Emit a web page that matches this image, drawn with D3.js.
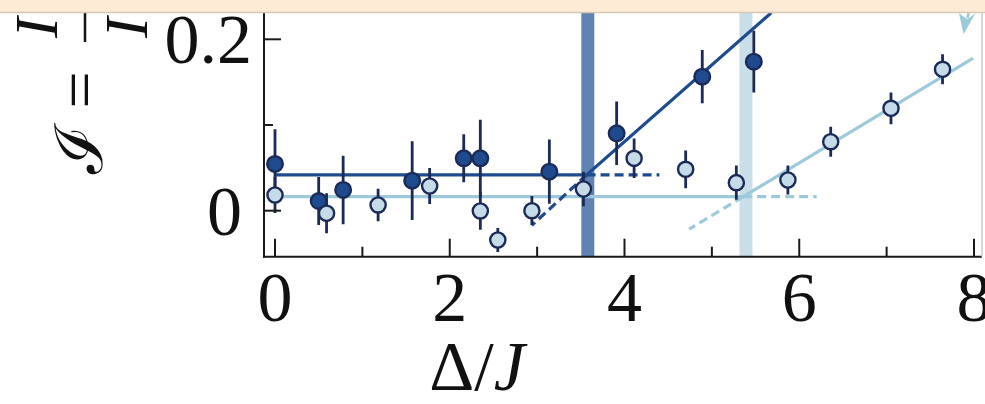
<!DOCTYPE html>
<html>
<head>
<meta charset="utf-8">
<script src="https://cdn.jsdelivr.net/npm/d3@7"></script>
<style>
  body { margin: 0; background: #fff; }
  svg { display: block; }
  text { font-family: "Liberation Serif", "DejaVu Serif", serif; fill: #111; }
</style>
</head>
<body>
<div id="chart"></div>
<script>
// dark series (filled markers)
const darkX = [0, 0.5, 0.78, 1.57, 2.16, 2.35, 3.14, 3.91, 4.89, 5.48];
const darkY = [0.0545, 0.0113, 0.0242, 0.035, 0.0611, 0.0611, 0.0455, 0.0903, 0.1564, 0.1739];
const darkErr = [0.0405, 0.028, 0.04, 0.046, 0.028, 0.045, 0.0375, 0.037, 0.031, 0.036];

// light series
const lightX = [0, 0.59, 1.18, 1.77, 2.35, 2.55, 2.94, 3.53, 4.11, 4.70, 5.28, 5.87, 6.36, 7.05, 7.64];
const lightY = [0.0183, -0.003, 0.0067, 0.0288, -0.0003, -0.0342, 0.0, 0.0253, 0.0611, 0.0483, 0.0327, 0.0358, 0.0805, 0.1195, 0.165];
const lightErr = [0.021, 0.0233, 0.019, 0.021, 0.022, 0.014, 0.017, 0.02, 0.023, 0.022, 0.02, 0.017, 0.0175, 0.0185, 0.0175];

// fitted lines (solid + dashed extensions)
const darkFit = [[0, 0.0417], [3.566, 0.0417], [5.68, 0.231]];
const darkDashH = [[3.566, 0.0417], [4.4, 0.0417]];
const darkDashD = [[3.566, 0.0417], [2.94, -0.017]];
const lightFit = [[0, 0.0163], [5.358, 0.0163], [7.99, 0.178]];
const lightDashH = [[5.358, 0.0163], [6.2, 0.0163]];
const lightDashD = [[5.358, 0.0163], [4.74, -0.0215]];

// thresholds (vertical bands)
const darkThreshold = 3.58;
const lightThreshold = 5.39;

const xTicksMajor = [0, 2, 4, 6, 8];
const xTicksMinor = [1, 3, 5, 7];
const yTicksMajor = [0, 0.2];
const yTicksMinor = [0.1];

const arrowTip = [7.88, 0.206];

const W = 985, H = 404;
const pLeft = 264, pRight = 982, pTop = 13, pBottom = 256.7;

const navy = "#1b2a57";
const darkBlue = "#1f4b8e";
const lightFill = "#c6dbe8";
const lightLine = "#9ec9da";

const x = d3.scaleLinear().domain([0, 8]).range([275, 974]);
const y = d3.scaleLinear().domain([-0.0537, 0.2307]).range([pBottom, pTop]);

const svg = d3.select("#chart").append("svg")
  .attr("width", W).attr("height", H);

svg.append("rect").attr("width", W).attr("height", H).attr("fill", "#fff");

svg.append("clipPath").attr("id", "plotclip")
  .append("rect")
  .attr("x", pLeft).attr("y", pTop)
  .attr("width", pRight - pLeft).attr("height", pBottom - pTop);

const plot = svg.append("g").attr("clip-path", "url(#plotclip)");

// bands
plot.append("rect")
  .attr("x", x(darkThreshold) - 6.5).attr("y", pTop)
  .attr("width", 13).attr("height", pBottom - pTop)
  .attr("fill", "#2c5a9a").attr("opacity", 0.75);

plot.append("rect")
  .attr("x", x(lightThreshold) - 6.5).attr("y", pTop)
  .attr("width", 13).attr("height", pBottom - pTop)
  .attr("fill", "#c3dae6").attr("opacity", 0.9);

const line = d3.line().x(d => x(d[0])).y(d => y(d[1]));

plot.append("path").datum(lightFit).attr("d", line)
  .attr("fill", "none").attr("stroke", lightLine).attr("stroke-width", 3.2);
[lightDashH, lightDashD].forEach(seg => {
  plot.append("path").datum(seg).attr("d", line)
    .attr("fill", "none").attr("stroke", lightLine)
    .attr("stroke-width", 3.2).attr("stroke-dasharray", "9,5");
});

plot.append("path").datum(darkFit).attr("d", line)
  .attr("fill", "none").attr("stroke", darkBlue).attr("stroke-width", 3.2);
[darkDashH, darkDashD].forEach(seg => {
  plot.append("path").datum(seg).attr("d", line)
    .attr("fill", "none").attr("stroke", darkBlue)
    .attr("stroke-width", 3.2).attr("stroke-dasharray", "9,5");
});

function drawSeries(xs, ys, errs, fill, r) {
  const data = xs.map((v, i) => ({ x: v, y: ys[i], e: errs[i] }));
  plot.selectAll(null).data(data).enter().append("line")
    .attr("x1", d => x(d.x)).attr("x2", d => x(d.x))
    .attr("y1", d => y(d.y - d.e)).attr("y2", d => y(d.y + d.e))
    .attr("stroke", navy).attr("stroke-width", 2.8);
  plot.selectAll(null).data(data).enter().append("circle")
    .attr("cx", d => x(d.x)).attr("cy", d => y(d.y))
    .attr("r", r)
    .attr("fill", fill).attr("stroke", navy).attr("stroke-width", 2.4);
}

drawSeries(darkX, darkY, darkErr, darkBlue, 7.8);
drawSeries(lightX, lightY, lightErr, lightFill, 7.6);

// arrow (annotation, top right)
const tx = x(arrowTip[0]), ty = y(arrowTip[1]);
plot.append("line")
  .attr("x1", tx + 4).attr("y1", ty - 16).attr("x2", tx + 7).attr("y2", pTop - 10)
  .attr("stroke", lightLine).attr("stroke-width", 2.5);
plot.append("path")
  .attr("d", `M${tx},${ty} L${tx - 4.5},${ty - 21} L${tx + 4},${ty - 15} L${tx + 12},${ty - 21} Z`)
  .attr("fill", lightLine);

// axes
const axes = svg.append("g").attr("stroke", "#1a1a1a").attr("stroke-width", 2);
axes.append("line").attr("x1", pLeft).attr("x2", pLeft).attr("y1", pTop).attr("y2", pBottom + 1);
axes.append("line").attr("x1", pLeft - 1).attr("x2", pRight).attr("y1", pBottom).attr("y2", pBottom);
svg.append("line").attr("x1", pRight).attr("x2", pRight).attr("y1", pTop).attr("y2", pBottom)
  .attr("stroke", "#c8ccd0").attr("stroke-width", 1.5);

axes.selectAll(null).data(xTicksMajor).enter().append("line")
  .attr("x1", d => x(d)).attr("x2", d => x(d))
  .attr("y1", pBottom).attr("y2", pBottom - 18);
axes.selectAll(null).data(xTicksMinor).enter().append("line")
  .attr("x1", d => x(d)).attr("x2", d => x(d))
  .attr("y1", pBottom).attr("y2", pBottom - 10);
axes.selectAll(null).data(yTicksMajor).enter().append("line")
  .attr("x1", pLeft).attr("x2", pLeft + 17)
  .attr("y1", d => y(d)).attr("y2", d => y(d));
axes.selectAll(null).data(yTicksMinor).enter().append("line")
  .attr("x1", pLeft).attr("x2", pLeft + 9)
  .attr("y1", d => y(d)).attr("y2", d => y(d));

// tick labels
svg.selectAll(null).data(xTicksMajor).enter().append("text")
  .attr("x", d => x(d)).attr("y", 321)
  .attr("text-anchor", "middle").attr("font-size", 70)
  .text(d => d3.format("d")(d));

svg.selectAll(null).data(yTicksMajor).enter().append("text")
  .attr("x", d => d === 0 ? 242 : 252).attr("y", d => y(d) + 24)
  .attr("text-anchor", "end").attr("font-size", 70)
  .text(d => d === 0 ? "0" : d3.format(".1f")(d));

// x label
const xl = svg.append("text").attr("x", 477).attr("y", 390)
  .attr("text-anchor", "middle").attr("font-size", 70);
xl.append("tspan").text("Δ/");
xl.append("tspan").attr("font-style", "italic").text("J");

// y label (rotated)
const yl = svg.append("g").attr("transform", "translate(102,174) rotate(-90)");
yl.append("text").attr("x", 0).attr("y", 0).attr("font-size", 66)
  .text("ℐ =");
yl.append("line").attr("x1", 132).attr("x2", 200).attr("y1", -17).attr("y2", -17)
  .attr("stroke", "#111").attr("stroke-width", 2.5);
yl.append("text").attr("x", 136).attr("y", -45).attr("font-size", 62)
  .attr("font-style", "italic").text("I");
yl.append("text").attr("x", 136).attr("y", 45).attr("font-size", 62)
  .attr("font-style", "italic").text("I");

// header band at top
svg.append("rect").attr("x", 0).attr("y", 0).attr("width", W).attr("height", 12)
  .attr("fill", "#fdebd6");
svg.append("line").attr("x1", 0).attr("x2", W).attr("y1", 12.5).attr("y2", 12.5)
  .attr("stroke", "#d6c7b3").attr("stroke-width", 1.5);
</script>
</body>
</html>
